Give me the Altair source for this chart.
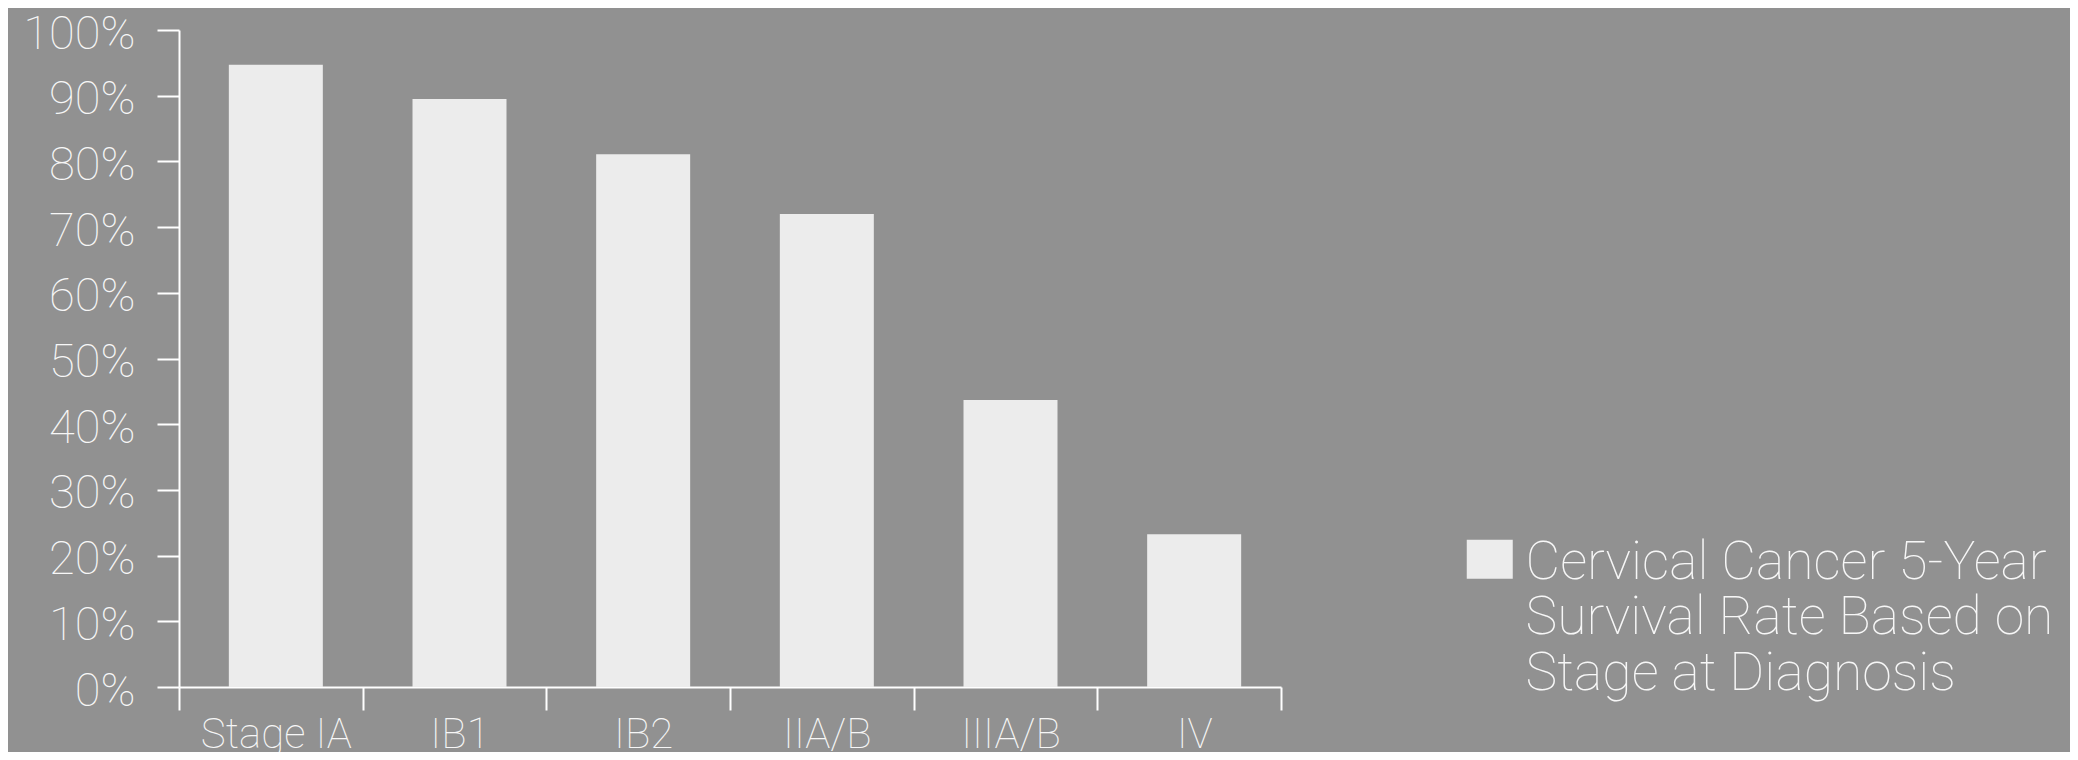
import altair as alt
import pandas as pd

stages = ["Stage IA", "IB1", "IB2", "IIA/B", "IIIA/B", "IV"]
rates = [0.947, 0.895, 0.811, 0.72, 0.437, 0.2325]
series_lines = ["Cervical Cancer 5-Year", "Survival Rate Based on", "Stage at Diagnosis"]
y_ticks = [0, 0.1, 0.2, 0.3, 0.4, 0.5, 0.6, 0.7, 0.8, 0.9, 1.0]

series_name = "\n".join(series_lines)
df = pd.DataFrame({"stage": stages, "rate": rates, "series": [series_name] * len(stages)})

FONT = "Roboto"
TXT = "#f7f7f7"

chart = alt.Chart(df).mark_bar(xOffset=5, width=94).encode(
    x=alt.X("stage:N", sort=stages, title=None,
            scale=alt.Scale(paddingInner=0, paddingOuter=0),
            axis=alt.Axis(labelAngle=0, labelFont=FONT, labelFontWeight=100,
                          labelFontSize=42, labelColor=TXT, labelPadding=4,
                          labelOffset=5, tickBand="extent", tickSize=23,
                          tickWidth=2, tickColor="white", domainColor="white",
                          domainWidth=2, grid=False)),
    y=alt.Y("rate:Q", title=None,
            scale=alt.Scale(domain=[0, 1], nice=False),
            axis=alt.Axis(values=y_ticks, format=".0%", labelFont=FONT,
                          labelFontWeight=100, labelFontSize=47, labelColor=TXT,
                          labelPadding=22, labelOffset=4, tickSize=22, tickWidth=2,
                          tickColor="white", domainColor="white", domainWidth=2,
                          grid=False)),
    color=alt.Color("series:N", scale=alt.Scale(range=["#ececec"]),
                    legend=alt.Legend(title=None, orient="none", legendX=1284,
                                      legendY=522, padding=0,
                                      labelExpr="split(datum.label, '\\n')",
                                      labelFont=FONT, labelFontWeight=100,
                                      labelFontSize=53.5, labelColor=TXT,
                                      labelLimit=1000, labelOffset=9,
                                      labelBaseline="alphabetic",
                                      symbolType="M-1,-1.7H1V0H-1Z",
                                      symbolSize=2116, symbolStrokeWidth=0,
                                      symbolOpacity=1)),
).properties(
    width=1102, height=657,
    autosize=alt.AutoSizeParams(type="none"),
    padding={"left": 171, "top": 22, "right": 789, "bottom": 65},
    background="#919191",
).configure_view(stroke=None)

chart.save("out.html", embed_options={"renderer": "svg", "actions": False})
